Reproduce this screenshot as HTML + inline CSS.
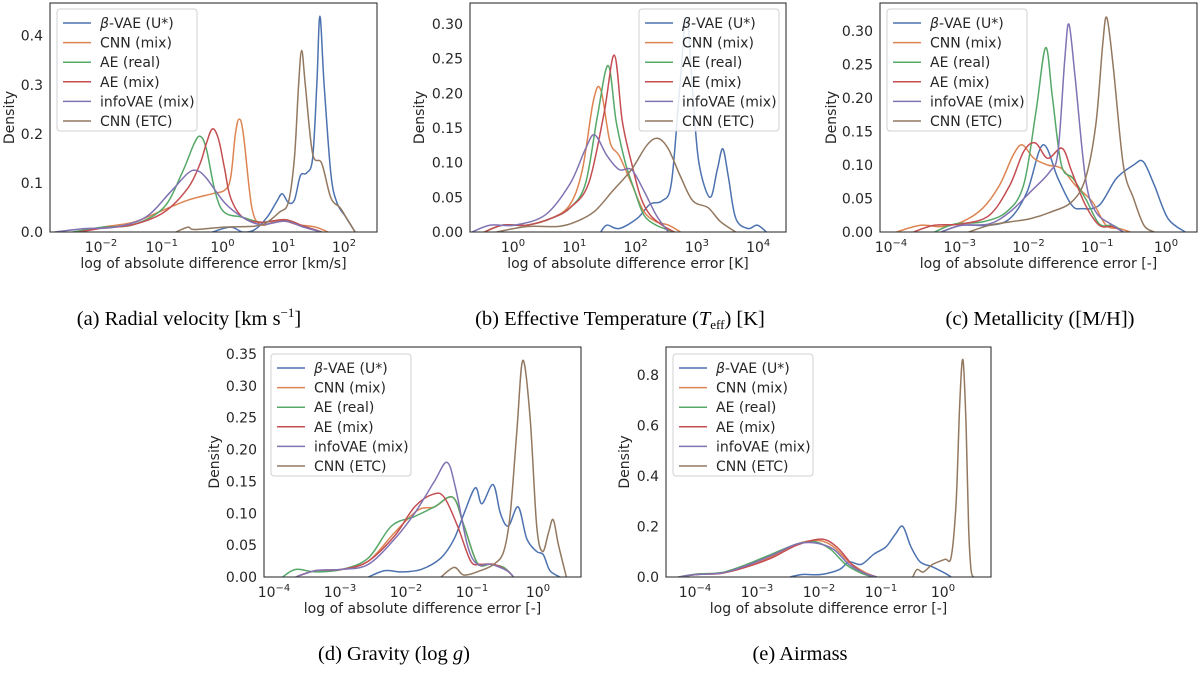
<!DOCTYPE html>
<html><head><meta charset="utf-8">
<style>
body{margin:0;background:#fff;}
svg{display:block;}
text{font-family:"DejaVu Sans","Liberation Sans",sans-serif;fill:#262626;}
.cap{font-family:"Liberation Serif",serif;font-size:20.5px;fill:#000;}
</style></head>
<body>
<svg id="fig" width="1200" height="673" viewBox="0 0 1200 673">
<text class="cap" x="189" y="325" text-anchor="middle">(a) Radial velocity [km s<tspan dy="-8" font-size="13">−1</tspan><tspan dy="8">]</tspan></text>
<text class="cap" x="620" y="325" text-anchor="middle">(b) Effective Temperature (<tspan font-style="italic">T</tspan><tspan dy="4" font-size="13">eff</tspan><tspan dy="-4">) [K]</tspan></text>
<text class="cap" x="1040" y="325" text-anchor="middle">(c) Metallicity ([M/H])</text>
<text class="cap" x="394" y="660" text-anchor="middle">(d) Gravity (log <tspan font-style="italic">g</tspan>)</text>
<text class="cap" x="800" y="660" text-anchor="middle">(e) Airmass</text>
</svg>
<script>
const seriesNames=["β-VAE (U*)","CNN (mix)","AE (real)","AE (mix)","infoVAE (mix)","CNN (ETC)"];
const seriesColors=["#4c72b0","#dd8452","#55a868","#c44e52","#8172b3","#937860"];
// Panel a: [log10 error, density]
const aBlue=[[-0.2,0],[0.1,0.01],[0.3,0],[0.5,0.005],[0.7,0.03],[0.85,0.06],[0.95,0.078],[1.05,0.06],[1.15,0.065],[1.25,0.115],[1.35,0.12],[1.45,0.15],[1.52,0.3],[1.57,0.44],[1.64,0.3],[1.75,0.12],[1.85,0.06],[2.0,0.03],[2.1,0.01],[2.15,0]];
const aOrange=[[-2.4,0],[-2,0.01],[-1.5,0.02],[-1,0.045],[-0.6,0.065],[-0.2,0.078],[0,0.085],[0.1,0.11],[0.18,0.2],[0.24,0.23],[0.31,0.2],[0.45,0.05],[0.6,0.015],[0.8,0.02],[1.0,0.022],[1.2,0.015],[1.5,0.01],[1.7,0]];
const aGreen=[[-2.5,0],[-2,0.01],[-1.5,0.015],[-1,0.05],[-0.7,0.12],[-0.5,0.18],[-0.4,0.195],[-0.3,0.17],[-0.15,0.08],[0,0.04],[0.3,0.03],[0.6,0.02],[1.0,0.025],[1.3,0.012],[1.6,0]];
const aRed=[[-2.4,0],[-2,0.008],[-1.5,0.015],[-1,0.04],[-0.6,0.09],[-0.4,0.14],[-0.3,0.18],[-0.2,0.21],[-0.1,0.19],[0,0.13],[0.1,0.07],[0.3,0.03],[0.6,0.02],[1.0,0.025],[1.3,0.012],[1.6,0]];
const aPurple=[[-2.8,0],[-2.3,0.007],[-1.8,0.01],[-1.3,0.03],[-0.9,0.08],[-0.6,0.12],[-0.45,0.125],[-0.3,0.11],[0,0.06],[0.3,0.03],[0.6,0.015],[1.0,0.022],[1.3,0.01],[1.6,0]];
const aBrown=[[-0.8,0],[-0.6,0.01],[-0.5,0.005],[0,0.01],[0.5,0.012],[0.7,0.02],[0.9,0.04],[1.05,0.06],[1.15,0.15],[1.22,0.3],[1.27,0.37],[1.33,0.3],[1.45,0.16],[1.6,0.14],[1.75,0.07],[1.9,0.05],[2.0,0.03],[2.15,0]];
// Panel b
const bBlue=[[1.4,0],[1.5,0.01],[1.7,0.005],[2.0,0.02],[2.2,0.04],[2.4,0.045],[2.55,0.07],[2.68,0.2],[2.8,0.31],[2.9,0.2],[3.0,0.1],[3.18,0.05],[3.3,0.09],[3.39,0.12],[3.48,0.08],[3.6,0.02],[3.8,0.005],[3.95,0.01],[4.1,0]];
const bOrange=[[-0.5,0],[-0.2,0.01],[0.2,0.01],[0.6,0.02],[0.9,0.04],[1.1,0.09],[1.28,0.19],[1.4,0.205],[1.55,0.13],[1.7,0.11],[1.9,0.07],[2.1,0.03],[2.3,0.015],[2.5,0.01],[2.7,0]];
const bGreen=[[-0.5,0],[-0.2,0.01],[0.2,0.01],[0.6,0.02],[0.9,0.035],[1.15,0.07],[1.35,0.17],[1.52,0.24],[1.65,0.16],[1.8,0.1],[1.95,0.06],[2.1,0.025],[2.3,0.01],[2.6,0]];
const bRed=[[-0.5,0],[-0.2,0.01],[0.2,0.01],[0.6,0.02],[0.9,0.035],[1.2,0.07],[1.45,0.17],[1.62,0.255],[1.75,0.16],[1.9,0.1],[2.05,0.05],[2.2,0.025],[2.4,0.01],[2.6,0]];
const bPurple=[[-0.7,0],[-0.4,0.01],[0,0.01],[0.5,0.025],[0.9,0.07],[1.15,0.12],[1.3,0.14],[1.5,0.11],[1.7,0.09],[1.9,0.09],[2.1,0.06],[2.3,0.025],[2.5,0]];
const bBrown=[[-0.3,0],[0.2,0.008],[0.7,0.008],[1.0,0.015],[1.3,0.03],[1.6,0.06],[1.9,0.09],[2.15,0.125],[2.33,0.135],[2.5,0.12],[2.7,0.08],[2.9,0.045],[3.15,0.035],[3.35,0.015],[3.6,0]];
// Panel c
const cBlue=[[-3.3,0],[-3,0.01],[-2.6,0.01],[-2.3,0.02],[-2.05,0.06],[-1.82,0.13],[-1.6,0.08],[-1.4,0.04],[-1.25,0.035],[-1.0,0.04],[-0.75,0.08],[-0.5,0.1],[-0.36,0.105],[-0.2,0.07],[0.0,0.02],[0.25,0]];
const cOrange=[[-3.95,0],[-3.6,0.01],[-3.3,0.008],[-3,0.015],[-2.7,0.035],[-2.45,0.07],[-2.25,0.115],[-2.12,0.13],[-1.95,0.11],[-1.75,0.1],[-1.55,0.095],[-1.35,0.07],[-1.1,0.045],[-0.9,0.01],[-0.7,0.005],[-0.55,0]];
const cGreen=[[-3.4,0],[-3.1,0.012],[-2.7,0.015],[-2.35,0.03],[-2.1,0.07],[-1.92,0.18],[-1.78,0.275],[-1.68,0.2],[-1.55,0.1],[-1.38,0.08],[-1.2,0.05],[-1.0,0.012],[-0.8,0.01],[-0.65,0]];
const cRed=[[-3.7,0],[-3.4,0.01],[-3,0.012],[-2.6,0.025],[-2.3,0.07],[-2.1,0.12],[-1.93,0.133],[-1.75,0.11],[-1.54,0.125],[-1.4,0.09],[-1.2,0.04],[-1.0,0.01],[-0.8,0.008],[-0.65,0]];
const cPurple=[[-3.3,0],[-3,0.01],[-2.6,0.012],[-2.3,0.03],[-2.0,0.06],[-1.72,0.09],[-1.6,0.12],[-1.5,0.26],[-1.44,0.31],[-1.35,0.23],[-1.2,0.08],[-1.05,0.03],[-0.8,0.01],[-0.65,0]];
const cBrown=[[-2.9,0],[-2.6,0.01],[-2.3,0.015],[-2,0.02],[-1.7,0.03],[-1.4,0.045],[-1.2,0.08],[-1.05,0.16],[-0.95,0.28],[-0.89,0.32],[-0.8,0.25],[-0.65,0.1],[-0.5,0.05],[-0.35,0.01],[-0.2,0]];
// Panel d
const dBlue=[[-2.6,0],[-2.35,0.01],[-2.1,0.008],[-1.8,0.012],[-1.5,0.03],[-1.3,0.06],[-1.15,0.1],[-0.98,0.14],[-0.88,0.115],[-0.71,0.145],[-0.6,0.1],[-0.48,0.08],[-0.33,0.11],[-0.2,0.06],[-0.05,0.04],[0.05,0.035],[0.15,0.01],[0.3,0]];
const dOrange=[[-3.7,0],[-3.4,0.01],[-3,0.012],[-2.6,0.025],[-2.2,0.07],[-1.85,0.105],[-1.6,0.11],[-1.32,0.125],[-1.15,0.08],[-0.95,0.022],[-0.75,0.02],[-0.55,0.015],[-0.4,0]];
const dGreen=[[-3.9,0],[-3.7,0.012],[-3.4,0.008],[-3,0.012],[-2.6,0.03],[-2.25,0.08],[-1.9,0.095],[-1.6,0.11],[-1.32,0.125],[-1.15,0.08],[-0.95,0.022],[-0.75,0.02],[-0.55,0.015],[-0.4,0]];
const dRed=[[-3.7,0],[-3.4,0.01],[-3,0.012],[-2.6,0.025],[-2.2,0.065],[-1.9,0.11],[-1.62,0.13],[-1.45,0.125],[-1.25,0.08],[-1.05,0.025],[-0.9,0.02],[-0.7,0.02],[-0.5,0.01],[-0.4,0]];
const dPurple=[[-3.7,0],[-3.4,0.01],[-3,0.012],[-2.6,0.02],[-2.2,0.06],[-1.9,0.1],[-1.6,0.15],[-1.41,0.18],[-1.28,0.14],[-1.1,0.05],[-0.95,0.02],[-0.75,0.02],[-0.5,0.01],[-0.4,0]];
const dBrown=[[-1.5,0],[-1.3,0.015],[-1.15,0.003],[-0.9,0.01],[-0.7,0.02],[-0.55,0.04],[-0.45,0.1],[-0.35,0.23],[-0.26,0.34],[-0.15,0.25],[-0.05,0.08],[0.04,0.04],[0.13,0.07],[0.2,0.09],[0.28,0.05],[0.4,0]];
// Panel e
const eBlue=[[-2.5,0],[-2.3,0.01],[-2.0,0.01],[-1.7,0.03],[-1.55,0.06],[-1.35,0.05],[-1.15,0.09],[-0.95,0.12],[-0.8,0.17],[-0.68,0.2],[-0.55,0.12],[-0.4,0.06],[-0.2,0.04],[0.0,0.015],[0.1,0]];
const eOrange=[[-4.3,0],[-4.0,0.01],[-3.6,0.015],[-3.2,0.04],[-2.8,0.08],[-2.4,0.13],[-2.05,0.145],[-1.8,0.12],[-1.55,0.06],[-1.3,0.02],[-1.1,0]];
const eGreen=[[-4.3,0],[-4.0,0.012],[-3.6,0.018],[-3.2,0.05],[-2.8,0.09],[-2.4,0.13],[-2.1,0.14],[-1.85,0.11],[-1.6,0.05],[-1.35,0.015],[-1.15,0]];
const eRed=[[-4.3,0],[-4.0,0.01],[-3.6,0.015],[-3.2,0.04],[-2.8,0.075],[-2.4,0.125],[-2.0,0.15],[-1.75,0.12],[-1.5,0.05],[-1.3,0.015],[-1.1,0]];
const ePurple=[[-4.3,0],[-4.0,0.01],[-3.6,0.016],[-3.2,0.045],[-2.8,0.085],[-2.4,0.13],[-2.1,0.135],[-1.8,0.11],[-1.55,0.05],[-1.3,0.015],[-1.1,0]];
const eBrown=[[-0.52,0],[-0.45,0.03],[-0.35,0.02],[-0.2,0.05],[0.0,0.07],[0.1,0.08],[0.18,0.3],[0.24,0.7],[0.29,0.86],[0.34,0.6],[0.38,0.2],[0.42,0.03],[0.46,0]];

const yTicksA=[0,0.1,0.2,0.3,0.4], yLabelsA=["0.0","0.1","0.2","0.3","0.4"];
const yTicksB=[0,0.05,0.1,0.15,0.2,0.25,0.3], yLabelsB=["0.00","0.05","0.10","0.15","0.20","0.25","0.30"];
const yTicksD=[0,0.05,0.1,0.15,0.2,0.25,0.3,0.35], yLabelsD=["0.00","0.05","0.10","0.15","0.20","0.25","0.30","0.35"];
const yTicksE=[0,0.2,0.4,0.6,0.8], yLabelsE=["0.0","0.2","0.4","0.6","0.8"];
const xDecA=[-2,-1,0,1,2], xDecB=[0,1,2,3,4], xDecC=[-4,-3,-2,-1,0], xDecD=[-4,-3,-2,-1,0], xDecE=[-4,-3,-2,-1,0];

const NS="http://www.w3.org/2000/svg";
const svg=document.getElementById('fig');
function mk(tag,attrs,parent){const e=document.createElementNS(NS,tag);for(const k in attrs)e.setAttribute(k,attrs[k]);(parent||svg).appendChild(e);return e;}
function smooth(pts){
  let d="M"+pts[0][0].toFixed(1)+","+pts[0][1].toFixed(1);
  for(let i=0;i<pts.length-1;i++){
    const p0=pts[Math.max(0,i-1)],p1=pts[i],p2=pts[i+1],p3=pts[Math.min(pts.length-1,i+2)];
    const c1=[p1[0]+(p2[0]-p0[0])/6,p1[1]+(p2[1]-p0[1])/6];
    const c2=[p2[0]-(p3[0]-p1[0])/6,p2[1]-(p3[1]-p1[1])/6];
    d+="C"+c1[0].toFixed(1)+","+c1[1].toFixed(1)+" "+c2[0].toFixed(1)+","+c2[1].toFixed(1)+" "+p2[0].toFixed(1)+","+p2[1].toFixed(1);
  }
  return d;
}
function panel(id,box,x0,xDec,pxDec,y0px,yMax,yMaxPx,yTicks,yLabels,series,legend,xlabel,densX){
  const g=mk('g',{});
  
  
  const X=v=>x0+(v-xDec[0])*pxDec;
  const Y=v=>y0px-(v/yMax)*(y0px-yMaxPx);
  const clip=mk('clipPath',{id:'clip'+id},g);
  mk('rect',{x:box[0],y:box[1],width:box[2]-box[0],height:box[3]-box[1]},clip);
  const cg=mk('g',{'clip-path':'url(#clip'+id+')'},g);
  series.forEach((s,i)=>{
    const p=mk('path',{d:smooth(s.map(q=>[X(q[0]),Y(q[1])])),fill:'none',stroke:seriesColors[i],'stroke-width':1.5},cg);
    
    
  });
  const fr=mk('rect',{x:box[0],y:box[1],width:box[2]-box[0],height:box[3]-box[1],fill:'none',stroke:'#333','stroke-width':1.1},g);
  
  
  yTicks.forEach((t,i)=>{
    const tx=mk('text',{x:box[0]-7,y:Y(t)+5,'text-anchor':'end','font-size':14},g);
    tx.textContent=yLabels[i];
    
    
  });
  xDec.forEach(dv=>{
    const tx=mk('text',{x:X(dv)-2,y:box[3]+20,'text-anchor':'middle','font-size':14},g);
    tx.textContent="10";
    const sp=mk('tspan',{dy:-6,'font-size':10},tx);
    sp.textContent=(dv<0?"−":"")+Math.abs(dv);
    
    
  });
  const xl=mk('text',{x:(box[0]+box[2])/2,y:box[3]+36,'text-anchor':'middle','font-size':14},g);
  xl.textContent=xlabel;
  
  
  const yl=mk('text',{x:0,y:0,'text-anchor':'middle','font-size':14,transform:'translate('+densX+','+((box[1]+box[3])/2)+') rotate(-90)'},g);
  yl.textContent="Density";
  
  
  const lg=mk('g',{},g);
  
  
  mk('rect',{x:legend[0],y:legend[1],width:140,height:122,rx:3,fill:'#fff','fill-opacity':0.85,stroke:'#d0d0d0'},lg);
  seriesNames.forEach((n,i)=>{
    const yy=legend[1]+14+i*19.6;
    mk('line',{x1:legend[0]+6,x2:legend[0]+34,y1:yy,y2:yy,stroke:seriesColors[i],'stroke-width':1.5},lg);
    const t=mk('text',{x:legend[0]+43,y:yy+5,'font-size':14},lg);
    if(i===0){const b=mk('tspan',{'font-style':'italic'},t);b.textContent="β";const r=mk('tspan',{},t);r.textContent="-VAE (U*)";}
    else t.textContent=n;
    
    
  });
}
panel('a',[50,3,377,232],103,xDecA,60.75,232,0.4,35.7,yTicksA,yLabelsA,[aBlue,aOrange,aGreen,aRed,aPurple,aBrown],[57,9],"log of absolute difference error [km/s]",14);
panel('b',[470,3,786,232],515,xDecB,61.3,232,0.3,24,yTicksB,yLabelsB,[bBlue,bOrange,bGreen,bRed,bPurple,bBrown],[639,9],"log of absolute difference error [K]",424);
panel('c',[880,3,1197,232],893,xDecC,68.75,232,0.3,31,yTicksB,yLabelsB,[cBlue,cOrange,cGreen,cRed,cPurple,cBrown],[887,9],"log of absolute difference error [-]",836);
panel('d',[264,347,581,577],276,xDecD,66,577,0.35,354,yTicksD,yLabelsD,[dBlue,dOrange,dGreen,dRed,dPurple,dBrown],[271,354],"log of absolute difference error [-]",219);
panel('e',[666,347,991,577],697,xDecE,62,577,0.8,375,yTicksE,yLabelsE,[eBlue,eOrange,eGreen,eRed,ePurple,eBrown],[673,354],"log of absolute difference error [-]",629);
</script>
</body></html>
